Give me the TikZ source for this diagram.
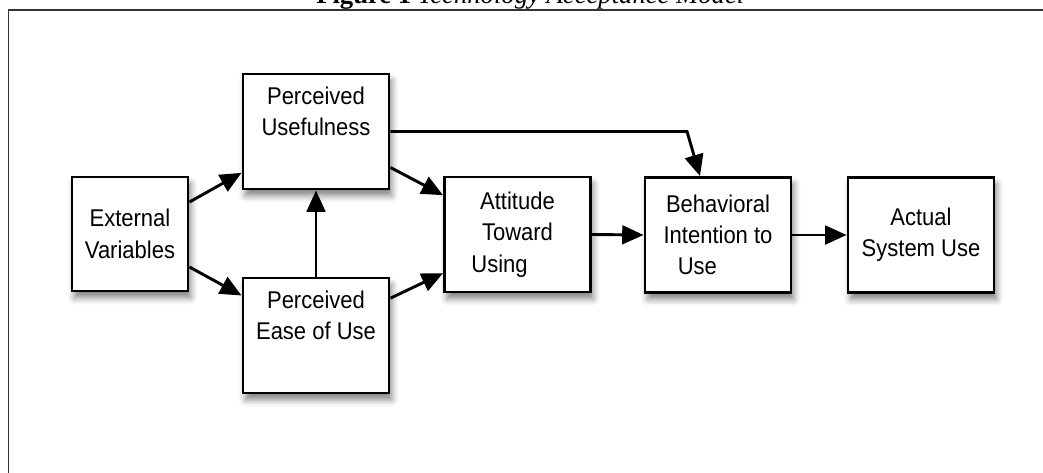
\documentclass[tikz,border=0pt]{standalone}
\usepackage{fontspec}
\setmainfont{Liberation Sans}
\newfontfamily\titlefont{Liberation Serif}
\usetikzlibrary{arrows.meta,shadows.blur}
\newcommand{\tall}[1]{\scalebox{1}[1.1]{#1}}
\begin{document}
\begin{tikzpicture}[x=0.75pt,y=-0.75pt,
  box/.style={draw=black,line width=2.2pt,fill=white,minimum width=109.5pt,minimum height=86.25pt,
    align=center,inner sep=0pt,font=\fontsize{16.5}{23.5}\selectfont,
    blur shadow={shadow xshift=2pt,shadow yshift=-5pt,shadow blur radius=5pt,shadow opacity=50}},
  arr/.style={line width=2.2pt,-{Triangle[length=16pt,width=14pt]}},
  frameline/.style={draw=black!80,line width=1.2pt}]
\useasboundingbox (0,0) rectangle (1043,472);
\node[anchor=base west,inner sep=0pt,font=\titlefont\fontsize{20}{24}\selectfont] (title) at (316,3.5) {\textbf{Figure 1} \textit{Technology Acceptance Model}};
\draw[frameline] (8.5,480) -- (8.5,10) -- (1050,10);
\node[box,minimum width=87pt,minimum height=85.5pt] (ext) at (130,234) {\tall{External}\\\tall{Variables}};
\node[box] (pu) at (316,131.5) {\tall{Perceived}\\\tall{Usefulness}\\\strut};
\node[box] (peou) at (316,335.5) {\tall{Perceived}\\\tall{Ease of Use}\\\strut};
\node[box] (att) at (517.5,234.5) {\tall{Attitude}\\\tall{Toward}\\\tall{Using}\hspace*{27pt}};
\node[box] (bi) at (718,235) {\tall{Behavioral}\\\tall{Intention to}\\\tall{Use}\hspace*{31pt}};
\node[box] (asu) at (921,235) {\tall{Actual}\\\tall{System Use}};
\coordinate (bend) at (687,131.5);
\draw[arr] ([yshift=24pt]ext.east) -- ([yshift=-31pt]pu.west);
\draw[arr] ([yshift=-24.75pt]ext.east) -- ([yshift=30pt]peou.west);
\draw[arr] (peou.north) -- (pu.south);
\draw[arr] ([yshift=-27pt]pu.east) -- ([yshift=29.5pt]att.west);
\draw[arr] ([yshift=28pt]peou.east) -- ([yshift=-29pt]att.west);
\draw[arr] (pu.east) -- (bend) -- ([xshift=-13.5pt]bi.north);
\draw[arr] (att.east) -- (bi.west);
\draw[arr] (bi.east) -- (asu.west);
\end{tikzpicture}
\end{document}
